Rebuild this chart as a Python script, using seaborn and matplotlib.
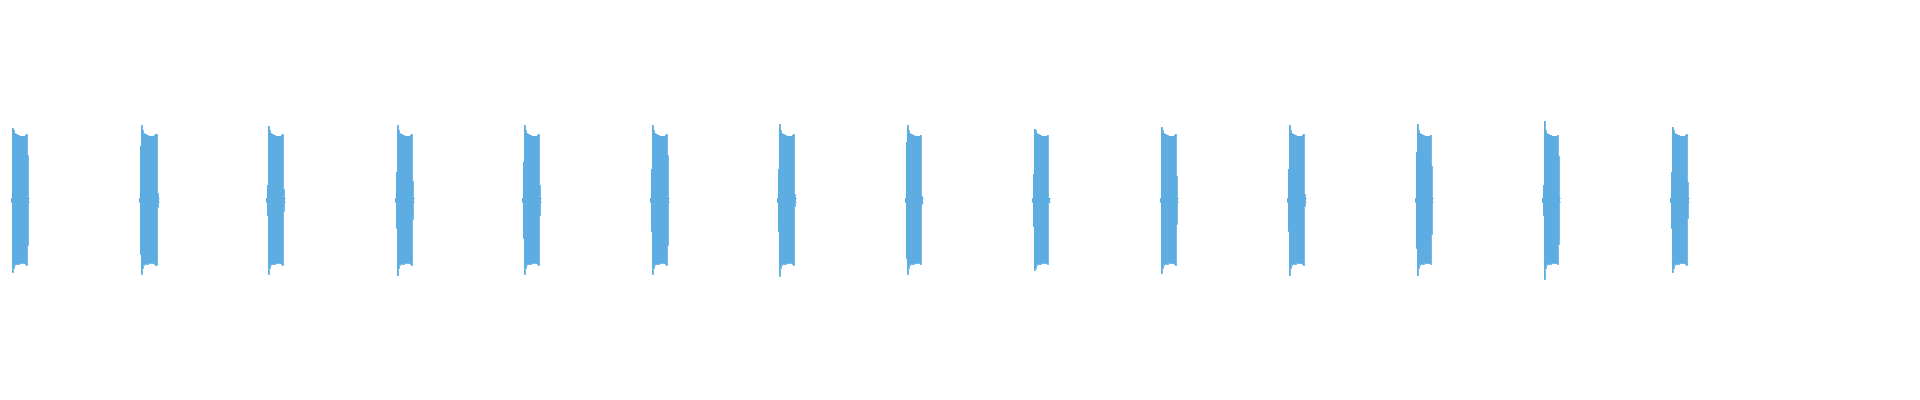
import numpy as np
import pandas as pd
import seaborn as sns
import matplotlib
matplotlib.use("Agg")
import matplotlib.pyplot as plt

# waveform of 14 short beeps over 15 s
duration = 15.0
col = 1 / 128  # one pixel column in seconds

onsets = [0.094, 1.102, 2.094, 3.102, 4.094, 5.094, 6.086, 7.086,
          8.078, 9.070, 10.070, 11.070, 12.063, 13.063]
core_len = [15, 16, 15, 15, 15, 15, 15, 14, 14, 15, 15, 14, 14, 15]
peak_top = [0.36, 0.375, 0.37, 0.375, 0.375, 0.375, 0.38, 0.375,
            0.355, 0.365, 0.375, 0.38, 0.395, 0.365]
peak_bot = [-0.358, -0.368, -0.368, -0.373, -0.37, -0.37, -0.378, -0.368,
            -0.35, -0.363, -0.373, -0.373, -0.393, -0.358]
lead_amp = [0.0, 0.27, 0.077, 0.142, 0.188, 0.153, 0.153, 0.289,
            0.13, 0.0, 0.154, 0.242, 0.077, 0.142]
tail_amp = [0.225, 0.037, 0.053, 0.095, 0.075, 0.225, 0.028, 0.019,
            0.01, 0.122, 0.03, 0.17, 0.222, 0.092]

# envelope of the loud part of a beep (after the first peak column)
core_top = [0.35, 0.335, 0.328, 0.328, 0.327, 0.324, 0.322, 0.32,
            0.318, 0.318, 0.32, 0.322, 0.325, 0.33, 0.33]
core_bot = [-0.342, -0.327, -0.32, -0.318, -0.32, -0.318, -0.316, -0.315,
            -0.313, -0.313, -0.315, -0.317, -0.32, -0.325, -0.325]
tick = 0.008

rows = []
for i, t0 in enumerate(onsets):
    n = core_len[i]
    tops = [tick]
    bots = [-tick]
    if lead_amp[i] > 0:
        tops.append(lead_amp[i])
        bots.append(-lead_amp[i])
    start = t0 - len(tops) * col
    tops += [peak_top[i]] + core_top[:n - 1] + [tail_amp[i], tick]
    bots += [peak_bot[i]] + core_bot[:n - 1] + [-tail_amp[i], -tick]
    tops.append(tops[-1])
    bots.append(bots[-1])
    for k, (a, b) in enumerate(zip(tops, bots)):
        rows.append({"beep": i, "time": start + k * col, "top": a, "bottom": b})

df = pd.DataFrame(rows)

sns.set_style("white")
color = "#5DADE2"

fig = plt.figure(figsize=(19.2, 4), dpi=100)
ax = fig.add_axes([0, 0, 1, 1])

for i, g in df.groupby("beep"):
    ax.fill_between(g["time"], g["bottom"], g["top"], step="post",
                    color=color, linewidth=0)
sns.lineplot(data=df, x="time", y="top", units="beep", estimator=None,
             sort=False, color=color, lw=0.6, drawstyle="steps-post", ax=ax)
sns.lineplot(data=df, x="time", y="bottom", units="beep", estimator=None,
             sort=False, color=color, lw=0.6, drawstyle="steps-post", ax=ax)

ax.set_xlim(0, duration)
ax.set_ylim(-1, 1)
ax.axis("off")

fig.savefig("out.png", dpi=100, facecolor="white")
